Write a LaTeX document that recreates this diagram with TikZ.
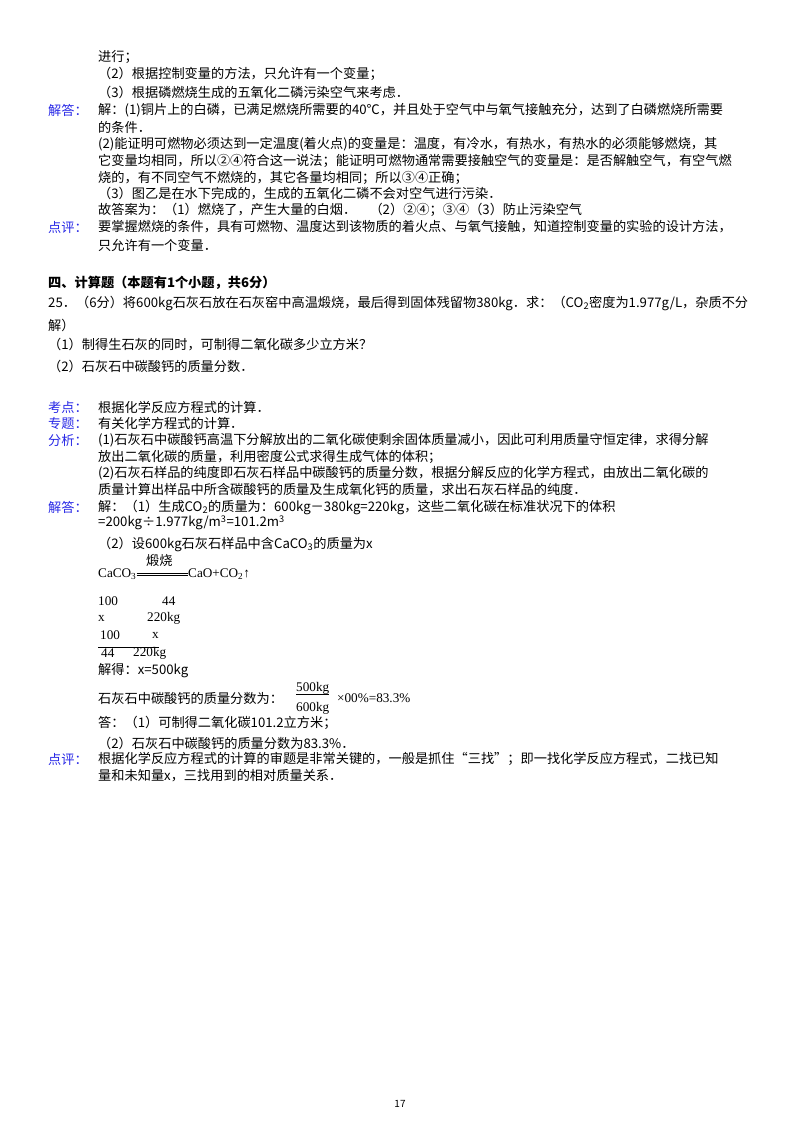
\documentclass[tikz,border=0pt]{standalone}
\usepackage{fontspec}
\setmainfont{Noto Sans CJK SC}
\usepackage{tikz}
\usepackage{xcolor}
\definecolor{labelcolor}{RGB}{40,40,230}
\tikzstyle{txt}=[anchor=west, inner sep=0pt, font=\fontsize{13.2}{16}\selectfont]
\tikzstyle{lbl}=[txt, text=labelcolor]
\tikzstyle{num}=[txt, font=\fontsize{13.2}{16}\fontspec{Liberation Serif}]
\begin{document}
\begin{tikzpicture}[x=1pt,y=-1pt]
	\useasboundingbox (0,0) rectangle (800,1132);
	% continued analysis
	\node (l1) [txt] at (98,57) {进行；};
	\node (l2) [txt] at (98,74) {（2）根据控制变量的方法，只允许有一个变量；};
	\node (l3) [txt] at (98,92) {（3）根据磷燃烧生成的五氧化二磷污染空气来考虑．};
	\node (a1) [lbl] at (48,110) {解答：};
	\node (a1t) [txt] at (98,110) {解：(1)铜片上的白磷，已满足燃烧所需要的40℃，并且处于空气中与氧气接触充分，达到了白磷燃烧所需要};
	\node (a2) [txt] at (98,127) {的条件．};
	\node (a3) [txt] at (98,144) {(2)能证明可燃物必须达到一定温度(着火点)的变量是：温度，有冷水，有热水，有热水的必须能够燃烧，其};
	\node (a4) [txt] at (98,161) {它变量均相同，所以②④符合这一说法；能证明可燃物通常需要接触空气的变量是：是否解触空气，有空气燃};
	\node (a5) [txt] at (98,178) {烧的，有不同空气不燃烧的，其它各量均相同；所以③④正确；};
	\node (a6) [txt] at (98,194) {（3）图乙是在水下完成的，生成的五氧化二磷不会对空气进行污染．};
	\node (a7) [txt] at (98,210) {故答案为：（1）燃烧了，产生大量的白烟．\quad（2）②④；③④（3）防止污染空气};
	\node (p1) [lbl] at (48,227) {点评：};
	\node (p1t) [txt] at (98,227) {要掌握燃烧的条件，具有可燃物、温度达到该物质的着火点、与氧气接触，知道控制变量的实验的设计方法，};
	\node (p2) [txt] at (98,245) {只允许有一个变量．};
	% section four
	\node (h) [txt, font=\fontsize{13.2}{16}\selectfont\bfseries] at (48,283) {四、计算题（本题有1个小题，共6分）};
	\node (q1) [txt] at (48,303) {25．（6分）将600kg石灰石放在石灰窑中高温煅烧，最后得到固体残留物380kg．求：（CO\textsubscript{2}密度为1.977g/L，杂质不分};
	\node (q2) [txt] at (48,325) {解）};
	\node (q3) [txt] at (48,345) {（1）制得生石灰的同时，可制得二氧化碳多少立方米？};
	\node (q4) [txt] at (48,366) {（2）石灰石中碳酸钙的质量分数．};
	\node (k1) [lbl] at (48,407) {考点：};
	\node (k1t) [txt] at (98,407) {根据化学反应方程式的计算．};
	\node (z1) [lbl] at (48,423) {专题：};
	\node (z1t) [txt] at (98,423) {有关化学方程式的计算．};
	\node (f1) [lbl] at (48,440) {分析：};
	\node (f1t) [txt] at (98,440) {(1)石灰石中碳酸钙高温下分解放出的二氧化碳使剩余固体质量减小，因此可利用质量守恒定律，求得分解};
	\node (f2) [txt] at (98,457) {放出二氧化碳的质量，利用密度公式求得生成气体的体积；};
	\node (f3) [txt] at (98,473) {(2)石灰石样品的纯度即石灰石样品中碳酸钙的质量分数，根据分解反应的化学方程式，由放出二氧化碳的};
	\node (f4) [txt] at (98,490) {质量计算出样品中所含碳酸钙的质量及生成氧化钙的质量，求出石灰石样品的纯度．};
	\node (s1) [lbl] at (48,507) {解答：};
	\node (s1t) [txt] at (98,507) {解：（1）生成CO\textsubscript{2}的质量为：600kg－380kg=220kg，这些二氧化碳在标准状况下的体积};
	\node (s2) [txt] at (98,523) {=200kg÷1.977kg/m\textsuperscript{3}=101.2m\textsuperscript{3}};
	\node (s3) [txt] at (98,544) {（2）设600kg石灰石样品中含CaCO\textsubscript{3}的质量为x};
	% reaction equation
	\node (caco) [num] at (98,574) {CaCO\textsubscript{3}};
	\node (cao) [num] at (188,574) {CaO+CO\textsubscript{2}↑};
	\node (dh) [txt] at (146,560) {煅烧};
	\draw ([yshift=1.2pt]caco.east) -- ([yshift=1.2pt]cao.west);
	\draw ([yshift=-1.2pt]caco.east) -- ([yshift=-1.2pt]cao.west);
	\node (m1) [num] at (98,601) {100};
	\node (m2) [num] at (162,601) {44};
	\node (x1) [num] at (98,618) {x};
	\node (x2) [num] at (147,618) {220kg};
	\node (r1) [num] at (100,635) {100};
	\node (r2) [num] at (152,635) {x};
	\node (r3) [num] at (101,653) {44};
	\node (r4) [num] at (133,653) {220kg};
	\draw (r3.north west) ++(-3,-1) coordinate (fl) -- (fl -| r2.east) ++(20,0);
	\node (s4) [txt] at (98,671) {解得：x=500kg};
	\node (s5) [txt] at (98,698) {石灰石中碳酸钙的质量分数为：};
	\node (n1) [num] at (296,688) {500kg};
	\node (n2) [num] at (296,708) {600kg};
	\draw (n1.south west) -- (n1.south east);
	\node (n3) [num] at (337,698) {×00\%=83.3\%};
	\node (s6) [txt] at (98,723) {答：（1）可制得二氧化碳101.2立方米；};
	\node (s7) [txt] at (98,743) {（2）石灰石中碳酸钙的质量分数为83.3\%．};
	\node (d1) [lbl] at (48,759) {点评：};
	\node (d1t) [txt] at (98,759) {根据化学反应方程式的计算的审题是非常关键的，一般是抓住“三找”；即一找化学反应方程式，二找已知};
	\node (d2) [txt] at (98,776) {量和未知量x，三找用到的相对质量关系．};
	\node (pg) [txt, anchor=center, font=\fontsize{10}{12}\selectfont] at (400,1104) {17};
\end{tikzpicture}
\end{document}
